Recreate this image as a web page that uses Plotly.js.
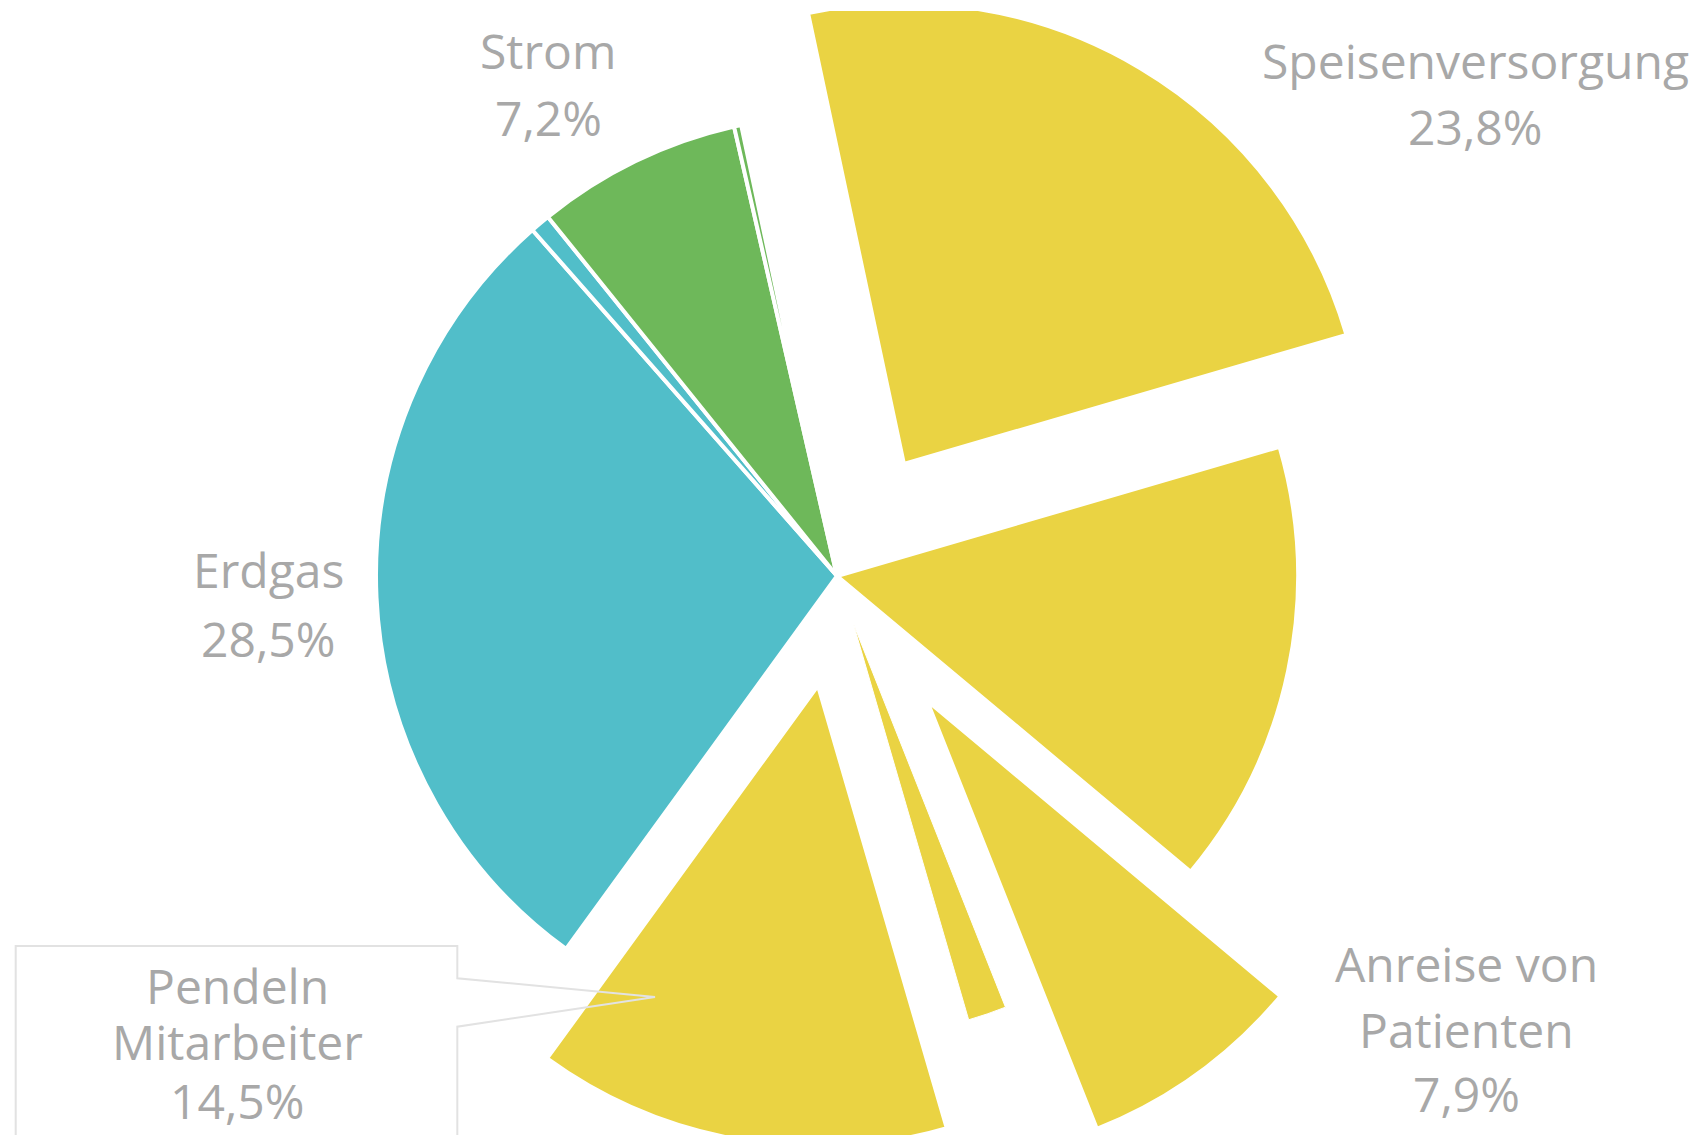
<!DOCTYPE html>
<html>
<head>
<meta charset="utf-8">
<script src="https://cdn.plot.ly/plotly-3.0.1.min.js"></script>
<style>
html,body{margin:0;padding:0;background:#ffffff;overflow:hidden;}
#clip{position:absolute;left:0;top:11px;width:1698px;height:1124px;overflow:hidden;}
#chart{position:absolute;left:0;top:-85px;width:1698px;height:1300px;}
</style>
</head>
<body>
<div id="clip"><div id="chart"></div></div>
<script>
// ---- data ----
const categories = ['Speisenversorgung', 'Sonstige Beschaffung', 'Anreise von Patienten', 'Sonstige Mobilität',
                    'Pendeln Mitarbeiter', 'Erdgas', 'Heizöl', 'Strom', 'Sonstige Energie'];
const shares     = [23.8, 15.6, 7.9, 1.5, 14.5, 28.5, 0.7, 7.2, 0.25];
const labelLines = [['Speisenversorgung'], [], ['Anreise von', 'Patienten'], [], ['Pendeln', 'Mitarbeiter'],
                    ['Erdgas'], [], ['Strom'], []];

// ---- styles ----
const YELLOW = '#EAD343', TEAL = '#51BEC9', GREEN = '#6EB85A';
const sliceColors = [YELLOW, YELLOW, YELLOW, YELLOW, YELLOW, TEAL, TEAL, GREEN, GREEN];
const pulls = [0.283, 0, 0.333, 0.121, 0.241, 0, 0, 0, 0];
const shortSlice = 3;          // drawn with a smaller radius
const TRANSP = 'rgba(0,0,0,0)';

// ---- geometry (plot pixel space) ----
const W = 1698, H = 1300, PAGE_TOP = -74;   // plot top relative to page
const CX = 837, CY = 576 - PAGE_TOP;
function domainFor(size) {
  return {x: [(CX - size / 2) / W, (CX + size / 2) / W],
          y: [1 - (CY + size / 2) / H, 1 - (CY - size / 2) / H]};
}
const mainPulls = pulls.map((p, i) => i === shortSlice ? 0 : p);
const shortPulls = pulls.map((p, i) => i === shortSlice ? p : 0);
const r1 = 461, r2 = 413;
const size1 = 2 * r1 * (1 + Math.max(...mainPulls));
const size2 = 2 * r2 * (1 + Math.max(...shortPulls));

const base = {
  type: 'pie', labels: categories, values: shares, sort: false,
  direction: 'clockwise', rotation: -12, textinfo: 'none',
  hoverinfo: 'none', showlegend: false
};
const trace1 = Object.assign({}, base, {
  pull: mainPulls, domain: domainFor(size1),
  marker: {colors: sliceColors.map((c, i) => i === shortSlice ? TRANSP : c),
           line: {color: '#ffffff', width: sliceColors.map((c, i) => i === shortSlice ? 0 : 4)}}
});
const trace2 = Object.assign({}, base, {
  pull: shortPulls, domain: domainFor(size2),
  marker: {colors: sliceColors.map((c, i) => i === shortSlice ? c : TRANSP),
           line: {color: '#ffffff', width: sliceColors.map((c, i) => i === shortSlice ? 1 : 0)}}
});

// ---- label placement (page pixels): centre x, y of each line ----
const labelPos = {
  0: {x: 1475, ys: [61, 127]},
  2: {x: 1466, ys: [963, 1029, 1093]},
  4: {x: 237, ys: [985, 1041, 1100]},
  5: {x: 268, ys: [569, 638]},
  7: {x: 548, ys: [51, 117]}
};
const px = x => x / W;
const py = y => 1 - (y - PAGE_TOP) / H;
const fmt = v => v.toFixed(1).replace('.', ',') + '%';

const annotations = [];
Object.keys(labelPos).forEach(k => {
  const i = +k, pos = labelPos[k];
  const lines = labelLines[i].concat([fmt(shares[i])]);
  lines.forEach((t, j) => {
    annotations.push({
      xref: 'paper', yref: 'paper', x: px(pos.x), y: py(pos.ys[j]),
      xanchor: 'center', yanchor: 'middle', showarrow: false, text: t,
      font: {family: 'Open Sans, sans-serif', size: 48, color: '#a8a8a8'}
    });
  });
});

// callout box for "Pendeln Mitarbeiter"
const box = [[15.7, 1160], [15.7, 946], [457.3, 946], [457.3, 978.3], [655, 997], [457.3, 1026.7], [457.3, 1160]];
const path = box.map((p, j) => (j ? 'L' : 'M') + px(p[0]).toFixed(5) + ',' + py(p[1]).toFixed(5)).join(' ');

const layout = {
  width: W, height: H,
  margin: {l: 0, r: 0, t: 0, b: 0},
  paper_bgcolor: '#ffffff', plot_bgcolor: '#ffffff',
  annotations: annotations,
  shapes: [{type: 'path', xref: 'paper', yref: 'paper', path: path, layer: 'above',
            line: {color: '#e2e2e2', width: 2}, fillcolor: 'rgba(0,0,0,0)'}]
};

Plotly.newPlot('chart', [trace1, trace2], layout, {displayModeBar: false, staticPlot: true});
</script>
</body>
</html>
